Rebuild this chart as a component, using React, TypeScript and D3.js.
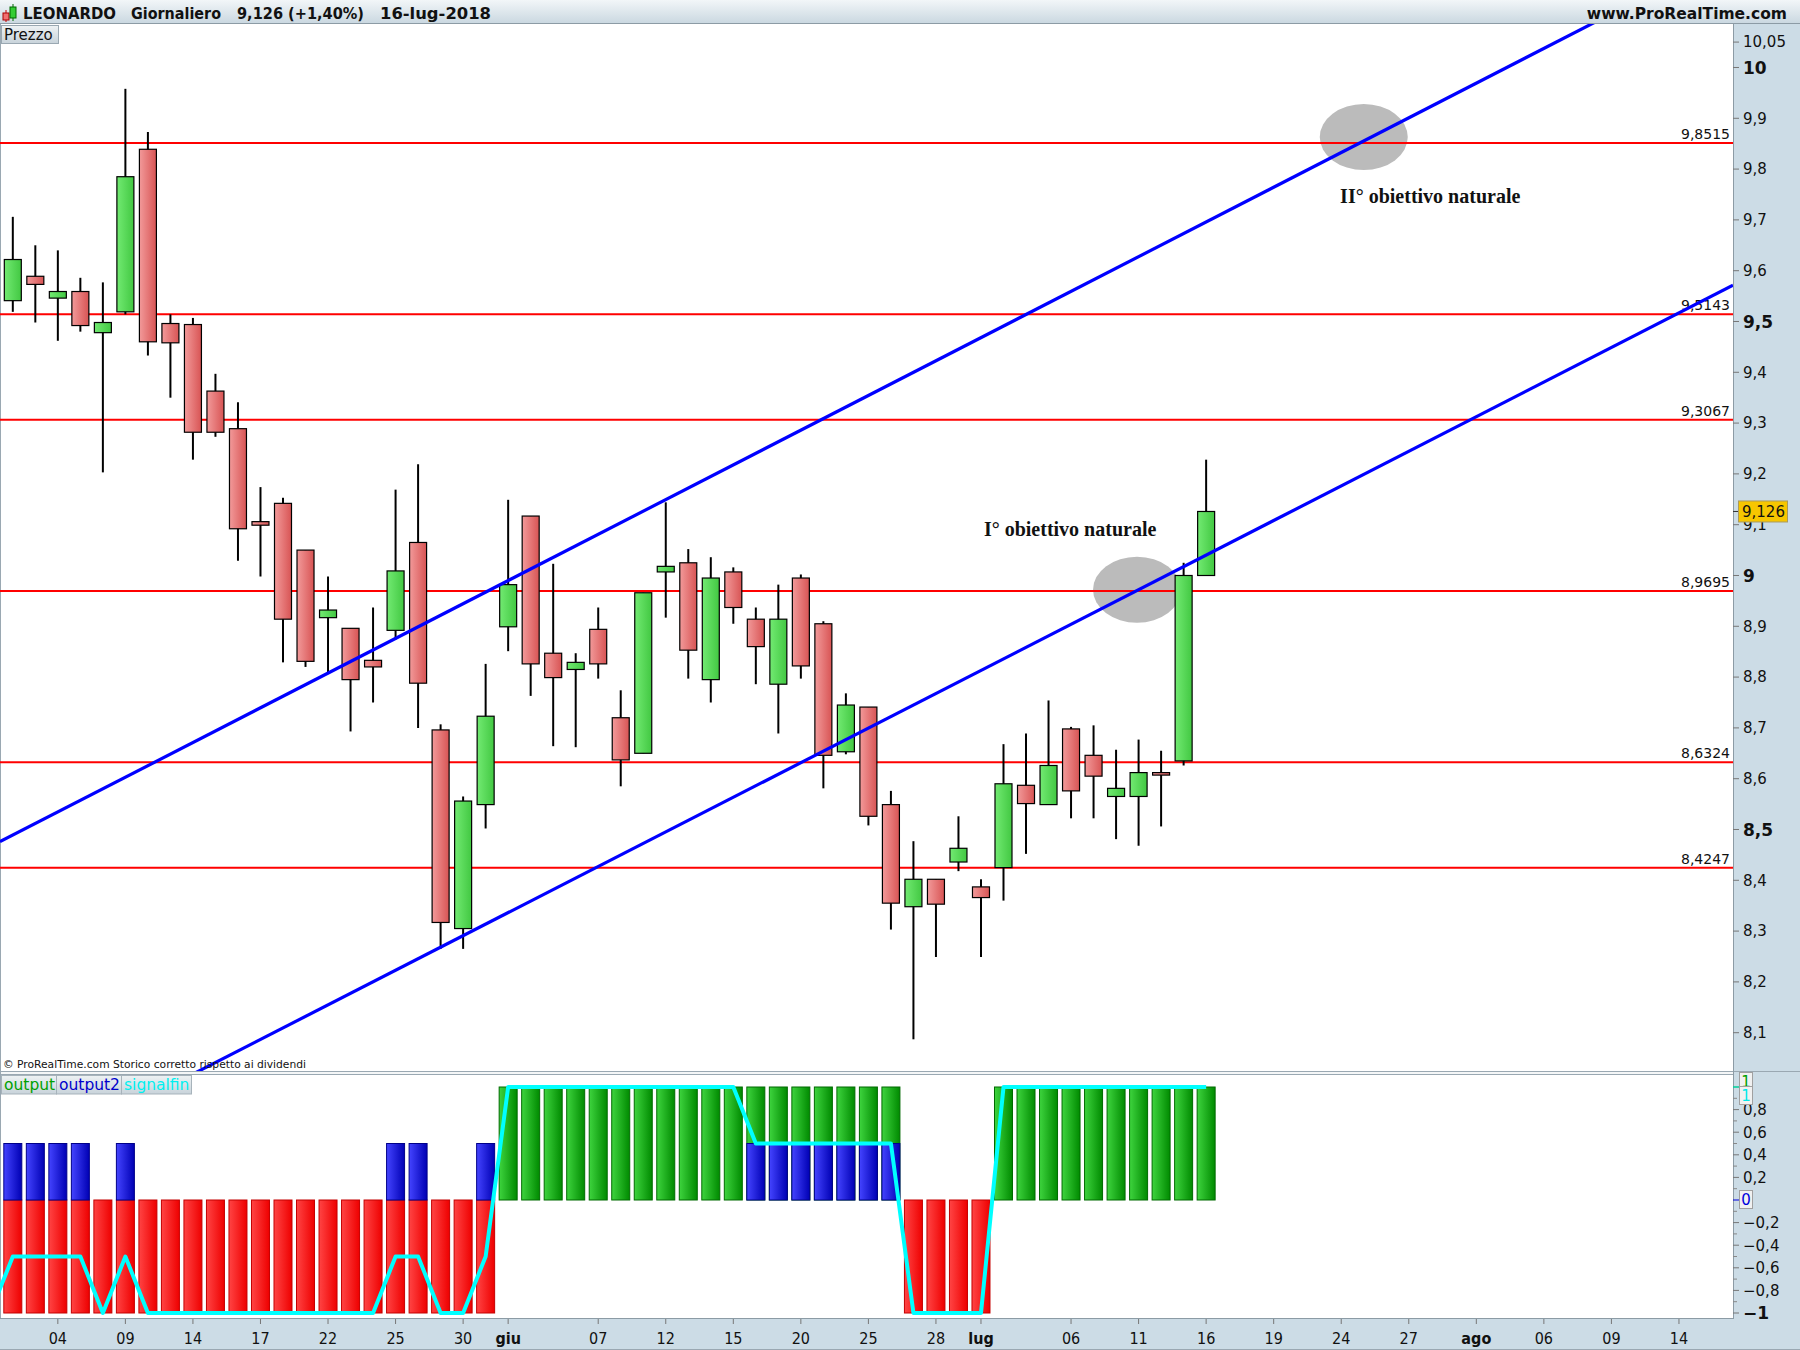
import React, { useEffect, useRef } from 'react';
import * as d3 from 'd3';

// trading days shown (candles) and the empty days on the right of the axis
const dates = [
  '2018-05-02', '2018-05-03', '2018-05-04', '2018-05-07', '2018-05-08', '2018-05-09', '2018-05-10', '2018-05-11',
  '2018-05-14', '2018-05-15', '2018-05-16', '2018-05-17', '2018-05-18', '2018-05-21', '2018-05-22', '2018-05-23',
  '2018-05-24', '2018-05-25', '2018-05-28', '2018-05-29', '2018-05-30', '2018-05-31', '2018-06-01', '2018-06-04',
  '2018-06-05', '2018-06-06', '2018-06-07', '2018-06-08', '2018-06-11', '2018-06-12', '2018-06-13', '2018-06-14',
  '2018-06-15', '2018-06-18', '2018-06-19', '2018-06-20', '2018-06-21', '2018-06-22', '2018-06-25', '2018-06-26',
  '2018-06-27', '2018-06-28', '2018-06-29', '2018-07-02', '2018-07-03', '2018-07-04', '2018-07-05', '2018-07-06',
  '2018-07-09', '2018-07-10', '2018-07-11', '2018-07-12', '2018-07-13', '2018-07-16',
];
const futureDates = [
  '2018-07-17', '2018-07-18', '2018-07-19', '2018-07-20', '2018-07-23', '2018-07-24', '2018-07-25', '2018-07-26',
  '2018-07-27', '2018-07-30', '2018-07-31', '2018-08-01', '2018-08-02', '2018-08-03', '2018-08-06', '2018-08-07',
  '2018-08-08', '2018-08-09', '2018-08-10', '2018-08-13', '2018-08-14',
];

const opens = [
  9.541, 9.589, 9.546, 9.559, 9.478, 9.519, 9.839, 9.496, 9.494, 9.363, 9.289, 9.106, 9.142, 9.05, 8.917, 8.896,
  8.833, 8.892, 9.065, 8.696, 8.305, 8.549, 8.899, 9.117, 8.847, 8.815, 8.894, 8.72, 8.65, 9.007, 9.025, 8.795,
  9.007, 8.914, 8.786, 8.995, 8.905, 8.653, 8.741, 8.549, 8.348, 8.402, 8.436, 8.387, 8.425, 8.587, 8.549, 8.698,
  8.646, 8.565, 8.565, 8.612, 8.635, 9.0,
];
const highs = [
  9.706, 9.65, 9.64, 9.586, 9.577, 9.958, 9.873, 9.514, 9.507, 9.397, 9.341, 9.174, 9.153, 9.05, 8.998, 8.896,
  8.937, 9.169, 9.219, 8.707, 8.565, 8.826, 9.149, 9.117, 9.023, 8.847, 8.937, 8.774, 8.966, 9.144, 9.052, 9.036,
  9.016, 8.937, 8.982, 9.002, 8.91, 8.768, 8.741, 8.576, 8.477, 8.402, 8.526, 8.402, 8.668, 8.689, 8.754, 8.702,
  8.705, 8.657, 8.677, 8.655, 9.025, 9.228,
];
const lows = [
  9.519, 9.498, 9.462, 9.48, 9.203, 9.514, 9.433, 9.35, 9.228, 9.273, 9.029, 8.998, 8.829, 8.82, 8.806, 8.693,
  8.75, 8.874, 8.7, 8.265, 8.265, 8.502, 8.851, 8.763, 8.664, 8.662, 8.797, 8.585, 8.65, 8.917, 8.797, 8.75,
  8.905, 8.786, 8.689, 8.797, 8.581, 8.648, 8.508, 8.303, 8.087, 8.249, 8.418, 8.249, 8.36, 8.452, 8.549, 8.522,
  8.522, 8.481, 8.468, 8.506, 8.626, 9.0,
];
const closes = [
  9.622, 9.573, 9.559, 9.492, 9.498, 9.785, 9.46, 9.458, 9.282, 9.282, 9.092, 9.099, 8.914, 8.831, 8.932, 8.795,
  8.82, 9.009, 8.788, 8.317, 8.556, 8.723, 8.982, 8.826, 8.799, 8.829, 8.826, 8.637, 8.966, 9.018, 8.853, 8.995,
  8.937, 8.86, 8.914, 8.822, 8.646, 8.745, 8.526, 8.355, 8.402, 8.353, 8.463, 8.366, 8.59, 8.551, 8.626, 8.576,
  8.605, 8.581, 8.612, 8.608, 9.0, 9.126,
];

// indicator panel
const output = [
  -1, -1, -1, -1, -1, -1, -1, -1, -1, -1, -1, -1, -1, -1, -1, -1, -1, -1, -1, -1, -1, -1,
  1, 1, 1, 1, 1, 1, 1, 1, 1, 1, 1, 1, 1, 1, 1, 1, 1, 1,
  -1, -1, -1, -1,
  1, 1, 1, 1, 1, 1, 1, 1, 1, 1,
];
const output2 = [
  0.5, 0.5, 0.5, 0.5, 0, 0.5, 0, 0, 0, 0, 0, 0, 0, 0, 0, 0, 0, 0.5, 0.5, 0, 0, 0.5,
  0, 0, 0, 0, 0, 0, 0, 0, 0, 0, 0, 0.5, 0.5, 0.5, 0.5, 0.5, 0.5, 0.5,
  0, 0, 0, 0,
  0, 0, 0, 0, 0, 0, 0, 0, 0, 0,
];
const signalBefore = -1; // value on the bar before 2 May
const signalfin = [
  -0.5, -0.5, -0.5, -0.5, -1, -0.5, -1, -1, -1, -1, -1, -1, -1, -1, -1, -1, -1, -0.5, -0.5, -1, -1, -0.5,
  1, 1, 1, 1, 1, 1, 1, 1, 1, 1, 1, 0.5, 0.5, 0.5, 0.5, 0.5, 0.5, 0.5,
  -1, -1, -1, -1,
  1, 1, 1, 1, 1, 1, 1, 1, 1, 1,
];

const levels = [9.8515, 9.5143, 9.3067, 8.9695, 8.6324, 8.4247];
const priceTicks = [10.05, 10, 9.9, 9.8, 9.7, 9.6, 9.5, 9.4, 9.3, 9.2, 9.1, 9, 8.9, 8.8, 8.7, 8.6, 8.5, 8.4, 8.3, 8.2, 8.1];
const boldPriceTicks = [10, 9.5, 9, 8.5];
const indTicks = [0.8, 0.6, 0.4, 0.2, -0.2, -0.4, -0.6, -0.8, -1];
const indMinorTicks = [0.9, 0.7, 0.5, 0.3, 0.1, -0.1, -0.3, -0.5, -0.7, -0.9];
const dateTicks = [
  ['2018-05-04', '04'], ['2018-05-09', '09'], ['2018-05-14', '14'], ['2018-05-17', '17'], ['2018-05-22', '22'],
  ['2018-05-25', '25'], ['2018-05-30', '30'], ['2018-06-01', 'giu'], ['2018-06-07', '07'], ['2018-06-12', '12'],
  ['2018-06-15', '15'], ['2018-06-20', '20'], ['2018-06-25', '25'], ['2018-06-28', '28'], ['2018-07-02', 'lug'],
  ['2018-07-06', '06'], ['2018-07-11', '11'], ['2018-07-16', '16'], ['2018-07-19', '19'], ['2018-07-24', '24'],
  ['2018-07-27', '27'], ['2018-08-01', 'ago'], ['2018-08-06', '06'], ['2018-08-09', '09'], ['2018-08-14', '14'],
];
const monthLabels = ['giu', 'lug', 'ago'];

// channel lines: [bar index, price]
const upperChannel = [[0, 8.489], [70, 10.083]];
const lowerChannel = [[10, 8.064], [50, 8.972]];
// target zones
const targetCenters = [[60, 9.863], [49.93, 8.972]];
const targetLabels = ['II° obiettivo naturale', 'I° obiettivo naturale'];
const targetLabelAt = [[58.95, 9.733], [43.13, 9.078]];
const lastPrice = 9.126;

const comma = (v: number) => String(v).replace('.', ',').replace('-', '\u2212');

export default function App() {
  const svgRef = useRef<SVGSVGElement>(null);

  useEffect(() => {
    if (!svgRef.current) return;
    const svg = d3.select(svgRef.current);
    svg.selectAll('*').remove();

    const plotRight = 1733;
    const priceTop = 24;
    const priceBottom = 1071;
    const indTop = 1075;
    const indBottom = 1318;
    const allDates = dates.concat(futureDates);

    const x = d3.scaleLinear().domain([-0.569, 76.4]).range([0, plotRight]);
    const y = d3.scaleLinear().domain([8.0246, 10.0856]).range([priceBottom, priceTop]);
    const yi = d3.scaleLinear().domain([-1, 1]).range([1313, 1087]);
    const font = '"DejaVu Sans", sans-serif';

    const defs = svg.append('defs');
    const grad = (id: string, a: string, b: string, vertical = false) => {
      const lg = defs.append('linearGradient').attr('id', id)
        .attr('x1', 0).attr('y1', 0).attr('x2', vertical ? 0 : 1).attr('y2', vertical ? 1 : 0);
      lg.append('stop').attr('offset', '0%').attr('stop-color', a);
      lg.append('stop').attr('offset', '100%').attr('stop-color', b);
    };
    grad('cUp', '#72ea72', '#42c842');
    grad('cDown', '#f29a9a', '#d85454');
    grad('bRed', '#ff4444', '#ee0000');
    grad('bBlue', '#4444ff', '#0000b4');
    grad('bGreen', '#3ed43e', '#008a00');
    grad('hdr', '#f2f6f8', '#c9d7e0', true);
    grad('tab', '#eef2f4', '#c8d3da', true);
    defs.append('clipPath').attr('id', 'pclip').append('rect')
      .attr('x', 0).attr('y', priceTop).attr('width', plotRight).attr('height', priceBottom - priceTop);
    defs.append('clipPath').attr('id', 'iclip').append('rect')
      .attr('x', 0).attr('y', indTop).attr('width', plotRight).attr('height', indBottom - indTop);

    // frame
    svg.append('rect').attr('width', 1800).attr('height', 1350).attr('fill', '#ccdce6');
    svg.append('rect').attr('x', 0).attr('y', priceTop).attr('width', plotRight).attr('height', priceBottom - priceTop).attr('fill', '#fff');
    svg.append('rect').attr('x', 0).attr('y', indTop).attr('width', plotRight).attr('height', indBottom - indTop).attr('fill', '#fff');
    svg.append('rect').attr('x', 0).attr('y', priceBottom).attr('width', plotRight).attr('height', indTop - priceBottom).attr('fill', '#f4f6f7');
    svg.append('line').attr('x1', 0).attr('x2', 1800).attr('y1', priceBottom + 0.5).attr('y2', priceBottom + 0.5).attr('stroke', '#9aa8b2');
    svg.append('line').attr('x1', 0).attr('x2', plotRight).attr('y1', indTop - 0.5).attr('y2', indTop - 0.5).attr('stroke', '#9aa8b2');
    svg.append('line').attr('x1', 0).attr('x2', plotRight).attr('y1', indBottom + 0.5).attr('y2', indBottom + 0.5).attr('stroke', '#8c9ba5');
    svg.append('line').attr('x1', plotRight + 0.5).attr('x2', plotRight + 0.5).attr('y1', priceTop).attr('y2', indBottom + 1).attr('stroke', '#8c9ba5');
    svg.append('line').attr('x1', 0.5).attr('x2', 0.5).attr('y1', priceTop).attr('y2', indBottom).attr('stroke', '#9aa8b2');

    // header
    svg.append('rect').attr('width', 1800).attr('height', priceTop).attr('fill', 'url(#hdr)');
    svg.append('line').attr('x1', 0).attr('x2', 1800).attr('y1', priceTop - 0.5).attr('y2', priceTop - 0.5).attr('stroke', '#8c9ba5');
    svg.append('line').attr('x1', 6).attr('x2', 6).attr('y1', 10).attr('y2', 22).attr('stroke', '#c00');
    svg.append('rect').attr('x', 3).attr('y', 13).attr('width', 6).attr('height', 7).attr('fill', '#f07070').attr('stroke', '#a00');
    svg.append('line').attr('x1', 13).attr('x2', 13).attr('y1', 4).attr('y2', 21).attr('stroke', '#060');
    svg.append('rect').attr('x', 10).attr('y', 7).attr('width', 6).attr('height', 11).attr('fill', '#3c3').attr('stroke', '#060');
    const hdr: [string, number, number][] = [
      ['LEONARDO', 23, 93], ['Giornaliero', 131, 90], ['9,126 (+1,40%)', 237, 127], ['16-lug-2018', 380, 111],
    ];
    hdr.forEach(([t, px, len]) => {
      svg.append('text').attr('x', px).attr('y', 18.5).attr('font-family', font).attr('font-size', 15.5)
        .attr('font-weight', 'bold').attr('fill', '#111')
        .attr('textLength', len).attr('lengthAdjust', 'spacingAndGlyphs').text(t);
    });
    svg.append('text').attr('x', 1787).attr('y', 18.5).attr('text-anchor', 'end').attr('font-family', font)
      .attr('font-size', 15.5).attr('font-weight', 'bold').attr('fill', '#111').text('www.ProRealTime.com');

    // price panel
    const p = svg.append('g').attr('clip-path', 'url(#pclip)');

    targetCenters.forEach(([ti, tv]) => {
      p.append('ellipse').attr('cx', x(ti)).attr('cy', y(tv)).attr('rx', 44).attr('ry', 33).attr('fill', '#bbbbbb');
    });

    levels.forEach((lv) => {
      p.append('line').attr('x1', 0).attr('x2', plotRight).attr('y1', y(lv)).attr('y2', y(lv))
        .attr('stroke', '#ff0000').attr('stroke-width', 2);
      p.append('text').attr('x', plotRight - 3).attr('y', y(lv) - 4).attr('text-anchor', 'end')
        .attr('font-family', font).attr('font-size', 14).attr('fill', '#111').text(lv.toFixed(4).replace('.', ','));
    });

    dates.forEach((d, i) => {
      const o = opens[i];
      const c = closes[i];
      const cx = x(i);
      p.append('line').attr('x1', cx).attr('x2', cx).attr('y1', y(highs[i])).attr('y2', y(lows[i]))
        .attr('stroke', '#000').attr('stroke-width', 2);
      const top = y(Math.max(o, c));
      const bot = y(Math.min(o, c));
      p.append('rect').attr('x', cx - 8.5).attr('y', top).attr('width', 17).attr('height', Math.max(bot - top, 2.5))
        .attr('fill', c >= o ? 'url(#cUp)' : 'url(#cDown)').attr('stroke', '#000').attr('stroke-width', 1.2);
    });

    const chan = (pts: number[][]) => {
      const slope = (pts[1][1] - pts[0][1]) / (pts[1][0] - pts[0][0]);
      const [i0, i1] = x.domain();
      const at = (i: number) => pts[0][1] + (i - pts[0][0]) * slope;
      p.append('line').attr('x1', x(i0)).attr('x2', x(i1)).attr('y1', y(at(i0))).attr('y2', y(at(i1)))
        .attr('stroke', '#0000ff').attr('stroke-width', 3.2);
    };
    chan(upperChannel);
    chan(lowerChannel);

    targetLabels.forEach((t, k) => {
      p.append('text').attr('x', x(targetLabelAt[k][0])).attr('y', y(targetLabelAt[k][1]))
        .attr('font-family', '"Liberation Serif", "Times New Roman", serif').attr('font-size', 20)
        .attr('font-weight', 'bold').attr('fill', '#111').text(t);
    });

    p.append('text').attr('x', 3).attr('y', 1068).attr('font-family', font).attr('font-size', 11)
      .attr('textLength', 303).attr('lengthAdjust', 'spacingAndGlyphs').attr('fill', '#111')
      .text('© ProRealTime.com  Storico corretto rispetto ai dividendi');

    // "Prezzo" tab
    svg.append('rect').attr('x', 1.5).attr('y', 25.5).attr('width', 57).attr('height', 18)
      .attr('fill', 'url(#tab)').attr('stroke', '#9aa8b2');
    svg.append('text').attr('x', 4).attr('y', 40).attr('font-family', font).attr('font-size', 15)
      .attr('fill', '#111').text('Prezzo');

    // price axis
    priceTicks.forEach((v) => {
      svg.append('line').attr('x1', plotRight).attr('x2', plotRight + 6).attr('y1', y(v)).attr('y2', y(v)).attr('stroke', '#777');
      svg.append('text').attr('x', plotRight + 10).attr('y', y(v)).attr('dy', '0.36em').attr('font-family', font)
        .attr('font-size', boldPriceTicks.includes(v) ? 17 : 15).attr('font-weight', boldPriceTicks.includes(v) ? 'bold' : 'normal')
        .attr('fill', '#111').text(comma(v));
    });
    svg.append('line').attr('x1', plotRight).attr('x2', plotRight + 6).attr('y1', y(lastPrice)).attr('y2', y(lastPrice)).attr('stroke', '#333');
    svg.append('rect').attr('x', 1738.5).attr('y', y(lastPrice) - 10.5).attr('width', 49).attr('height', 21)
      .attr('fill', '#f7c600').attr('stroke', '#a89a60');
    svg.append('text').attr('x', 1742).attr('y', y(lastPrice)).attr('dy', '0.36em').attr('font-family', font)
      .attr('font-size', 15).attr('fill', '#111').text(comma(lastPrice));

    // indicator panel
    const ind = svg.append('g').attr('clip-path', 'url(#iclip)');
    const bw = 18;
    output.forEach((v, i) => {
      const top = Math.min(yi(v), yi(0));
      ind.append('rect').attr('x', x(i) - bw / 2).attr('y', top).attr('width', bw).attr('height', Math.abs(yi(v) - yi(0)))
        .attr('fill', v > 0 ? 'url(#bGreen)' : 'url(#bRed)').attr('stroke', v > 0 ? '#006a00' : '#c40000');
    });
    output2.forEach((v, i) => {
      if (v <= 0) return;
      ind.append('rect').attr('x', x(i) - bw / 2).attr('y', yi(v)).attr('width', bw).attr('height', yi(0) - yi(v))
        .attr('fill', 'url(#bBlue)').attr('stroke', '#00008a');
    });
    const sig: [number, number][] = [[-1, signalBefore], ...signalfin.map((v, i) => [i, v] as [number, number])];
    ind.append('path').attr('d', d3.line<[number, number]>().x((d) => x(d[0])).y((d) => yi(d[1]))(sig) || '')
      .attr('fill', 'none').attr('stroke', '#00ffff').attr('stroke-width', 4).attr('stroke-linejoin', 'round');

    const legend: [string, string, number][] = [['output', '#00a000', 55], ['output2', '#0000cc', 65], ['signalfin', '#00f0f0', 70]];
    let lx = 1;
    legend.forEach(([t, col, w]) => {
      svg.append('rect').attr('x', lx + 0.5).attr('y', indTop + 0.5).attr('width', w).attr('height', 18.5)
        .attr('fill', 'url(#tab)').attr('stroke', '#a7b3bb');
      svg.append('text').attr('x', lx + 3).attr('y', indTop + 15).attr('font-family', font).attr('font-size', 15.5)
        .attr('fill', col).text(t);
      lx += w;
    });

    // indicator axis
    indMinorTicks.forEach((v) => {
      svg.append('line').attr('x1', plotRight).attr('x2', plotRight + 4).attr('y1', yi(v)).attr('y2', yi(v)).attr('stroke', '#888');
    });
    indTicks.forEach((v) => {
      svg.append('line').attr('x1', plotRight).attr('x2', plotRight + 6).attr('y1', yi(v)).attr('y2', yi(v)).attr('stroke', '#777');
      svg.append('text').attr('x', plotRight + 10).attr('y', yi(v)).attr('dy', '0.36em').attr('font-family', font)
        .attr('font-size', v === -1 ? 17 : 15).attr('font-weight', v === -1 ? 'bold' : 'normal').attr('fill', '#111').text(comma(v));
    });
    const valBox = (v: number, txt: string, col: string, dy: number) => {
      svg.append('line').attr('x1', plotRight).attr('x2', plotRight + 6).attr('y1', yi(v)).attr('y2', yi(v)).attr('stroke', col);
      svg.append('rect').attr('x', 1739.5).attr('y', yi(v) - 9.5 + dy).attr('width', 13).attr('height', 18)
        .attr('fill', '#f1f1f1').attr('stroke', '#a0a0a0');
      svg.append('text').attr('x', 1746).attr('y', yi(v) + dy).attr('dy', '0.36em').attr('text-anchor', 'middle')
        .attr('font-family', font).attr('font-size', 15).attr('fill', col).text(txt);
    };
    valBox(1, '1', '#00a000', -5);
    valBox(1, '1', '#00e8e8', 9);
    valBox(0, '0', '#0000dd', 0);

    // date axis
    svg.append('line').attr('x1', 0).attr('x2', 1800).attr('y1', 1349.5).attr('y2', 1349.5).attr('stroke', '#9aa8b2');
    dateTicks.forEach(([d, label]) => {
      const i = allDates.indexOf(d);
      const bold = monthLabels.includes(label);
      svg.append('line').attr('x1', x(i)).attr('x2', x(i)).attr('y1', indBottom + 1).attr('y2', indBottom + 6).attr('stroke', '#777');
      svg.append('text').attr('x', x(i)).attr('y', 1344).attr('text-anchor', 'middle').attr('font-family', font)
        .attr('font-stretch', 'condensed').attr('font-size', 16).attr('font-weight', bold ? 'bold' : 'normal')
        .attr('fill', '#111').text(label);
    });
  }, []);

  return (
    <div style={{ position: 'absolute', left: 0, top: 0 }}>
      <svg ref={svgRef} width={1800} height={1350} style={{ display: 'block' }} />
    </div>
  );
}
